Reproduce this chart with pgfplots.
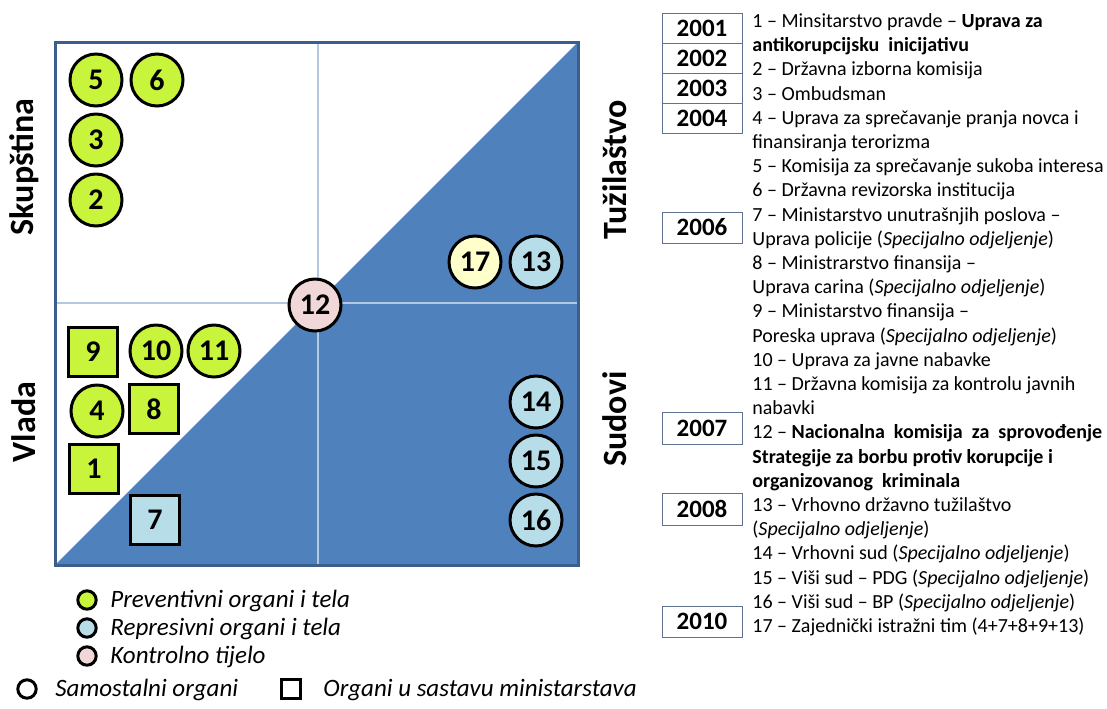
\documentclass[border=0pt]{standalone}
\usepackage{fontspec}
\setmainfont{Carlito}
\usepackage{pgfplots}
\pgfplotsset{compat=1.18}
\definecolor{fillblue}{HTML}{4F81BD}
\definecolor{framecol}{HTML}{3B5E8C}
\definecolor{gridcol}{HTML}{B4C8E2}
\definecolor{lime}{HTML}{C9F43C}
\definecolor{lblue}{HTML}{B7DDE8}
\definecolor{lyellow}{HTML}{FFFFCC}
\definecolor{lpink}{HTML}{F0D8D8}
\definecolor{boxcol}{HTML}{5F7391}
\pgfplotsset{
  bignum/.style={only marks, point meta=explicit symbolic, nodes near coords,
    nodes near coords style={anchor=center, text=black, font=\fontsize{15}{15}\selectfont\bfseries}},
}
\begin{document}
\begin{tikzpicture}
\begin{axis}[scale only axis, width=553.5pt, height=354pt,
  xmin=0, xmax=1107, ymin=0, ymax=708, y dir=reverse, hide axis, clip=false]
% blue triangle
\addplot[fill=fillblue, draw=none] coordinates {(55,565) (578,565) (578,42)} -- cycle;
% quadrant lines
\addplot[gridcol, line width=0.6pt] coordinates {(318,42) (318,565)};
\addplot[gridcol, line width=0.6pt] coordinates {(55,303) (578,303)};
% frame
\addplot[draw=framecol, line width=1.5pt] coordinates {(55,42) (578,42) (578,565) (55,565)} -- cycle;
% green circles
\addplot[bignum, mark=*, mark size=13pt, mark options={fill=lime, draw=black, line width=1.5pt}]
  coordinates {(96,80)[5] (157,80)[6] (96,140)[3] (96,200)[2] (156,351)[10] (214,351)[11] (97,411)[4]};
% green squares
\addplot[bignum, mark=square*, mark size=12.25pt, mark options={fill=lime, draw=black, line width=1.5pt}]
  coordinates {(93,352)[9] (154,409)[8] (94,469)[1]};
% blue square
\addplot[bignum, mark=square*, mark size=12.25pt, mark options={fill=lblue, draw=black, line width=1.5pt}]
  coordinates {(155,520)[7]};
% blue circles
\addplot[bignum, mark=*, mark size=13pt, mark options={fill=lblue, draw=black, line width=1.5pt}]
  coordinates {(536,262)[13] (536,402)[14] (536,461)[15] (536,520)[16]};
% yellow circle
\addplot[bignum, mark=*, mark size=13pt, mark options={fill=lyellow, draw=black, line width=1.5pt}]
  coordinates {(475,262)[17]};
% pink circle
\addplot[bignum, mark=*, mark size=13pt, mark options={fill=lpink, draw=black, line width=1.5pt}]
  coordinates {(315,305)[12]};
% legend markers
\addplot[only marks, mark=*, mark size=4.6pt, mark options={fill=lime, draw=black, line width=1.5pt}] coordinates {(87,600)};
\addplot[only marks, mark=*, mark size=4.6pt, mark options={fill=lblue, draw=black, line width=1.5pt}] coordinates {(87,628)};
\addplot[only marks, mark=*, mark size=4.6pt, mark options={fill=lpink, draw=black, line width=1.5pt}] coordinates {(87,656)};
\addplot[only marks, mark=*, mark size=4.6pt, mark options={fill=white, draw=black, line width=1.5pt}] coordinates {(27,689)};
\addplot[only marks, mark=square*, mark size=4.7pt, mark options={fill=white, draw=black, line width=1.5pt}] coordinates {(291,689)};

% legend texts
\begin{scope}[every node/.style={anchor=base west, inner sep=0pt, font=\fontsize{12.5}{12.5}\selectfont\itshape}]
\node at (axis cs:110,607) {Preventivni organi i tela};
\node at (axis cs:110,635) {Represivni organi i tela};
\node at (axis cs:110,663) {Kontrolno tijelo};
\node at (axis cs:55,696) {Samostalni organi};
\node at (axis cs:323,696) {Organi u sastavu ministarstava};
\end{scope}

% side labels
\begin{scope}[every node/.style={rotate=90, inner sep=0pt, font=\fontsize{17}{17}\selectfont\bfseries}]
\node at (axis cs:24,167) {Skupština};
\node at (axis cs:24,422) {Vlada};
\node at (axis cs:615,170) {Tužilaštvo};
\node at (axis cs:615,419) {Sudovi};
\end{scope}

% year boxes
\draw[boxcol, line width=0.5pt] (axis cs:662,13) rectangle (axis cs:742,133);
\draw[boxcol, line width=0.5pt] (axis cs:662,43) -- (axis cs:742,43);
\draw[boxcol, line width=0.5pt] (axis cs:662,73) -- (axis cs:742,73);
\draw[boxcol, line width=0.5pt] (axis cs:662,103) -- (axis cs:742,103);
\draw[boxcol, line width=0.5pt] (axis cs:662,212) rectangle (axis cs:742,243);
\draw[boxcol, line width=0.5pt] (axis cs:662,412) rectangle (axis cs:742,444);
\draw[boxcol, line width=0.5pt] (axis cs:662,493) rectangle (axis cs:742,525);
\draw[boxcol, line width=0.5pt] (axis cs:662,606) rectangle (axis cs:742,637);
\begin{scope}[every node/.style={inner sep=0pt, font=\fontsize{12.5}{12.5}\selectfont\bfseries}]
\node at (axis cs:702,28) {2001};
\node at (axis cs:702,58) {2002};
\node at (axis cs:702,88) {2003};
\node at (axis cs:702,118) {2004};
\node at (axis cs:702,227.5) {2006};
\node at (axis cs:702,428) {2007};
\node at (axis cs:702,509) {2008};
\node at (axis cs:702,621.5) {2010};
\end{scope}

% list
\begin{scope}[every node/.style={anchor=base west, inner sep=0pt, font=\fontsize{10}{10}\selectfont}]
\node at (axis cs:752,27.5) {1 – Minsitarstvo pravde – \textbf{Uprava za}};
\node at (axis cs:752,51.7) {\textbf{antikorupcijsku\ \ inicijativu}};
\node at (axis cs:752,75.9) {2 – Državna izborna komisija};
\node at (axis cs:752,100.1) {3 – Ombudsman};
\node at (axis cs:752,124.3) {4 – Uprava za sprečavanje pranja novca i};
\node at (axis cs:752,148.5) {finansiranja terorizma};
\node at (axis cs:752,172.7) {5 – Komisija za sprečavanje sukoba interesa};
\node at (axis cs:752,196.9) {6 – Državna revizorska institucija};
\node at (axis cs:752,221.1) {7 – Ministarstvo unutrašnjih poslova –};
\node at (axis cs:752,245.3) {Uprava policije (\textit{Specijalno odjeljenje})};
\node at (axis cs:752,269.5) {8 – Ministrarstvo finansija –};
\node at (axis cs:752,293.7) {Uprava carina (\textit{Specijalno odjeljenje})};
\node at (axis cs:752,317.9) {9 – Ministarstvo finansija –};
\node at (axis cs:752,342.1) {Poreska uprava (\textit{Specijalno odjeljenje})};
\node at (axis cs:752,366.3) {10 – Uprava za javne nabavke};
\node at (axis cs:752,390.5) {11 – Državna komisija za kontrolu javnih};
\node at (axis cs:752,414.7) {nabavki};
\node at (axis cs:752,438.9) {12 – \textbf{Nacionalna\ \ komisija\ \ za\ \ sprovođenje}};
\node at (axis cs:752,463.1) {\textbf{Strategije za borbu protiv korupcije i}};
\node at (axis cs:752,487.3) {\textbf{organizovanog\ \ kriminala}};
\node at (axis cs:752,511.5) {13 – Vrhovno državno tužilaštvo};
\node at (axis cs:752,535.7) {(\textit{Specijalno odjeljenje})};
\node at (axis cs:752,559.9) {14 – Vrhovni sud (\textit{Specijalno odjeljenje})};
\node at (axis cs:752,584.1) {15 – Viši sud – PDG (\textit{Specijalno odjeljenje})};
\node at (axis cs:752,608.3) {16 – Viši sud – BP (\textit{Specijalno odjeljenje})};
\node at (axis cs:752,632.5) {17 – Zajednički istražni tim (4+7+8+9+13)};
\end{scope}
\path (axis cs:0,0) (axis cs:1107,708);
\end{axis}
\end{tikzpicture}
\end{document}
